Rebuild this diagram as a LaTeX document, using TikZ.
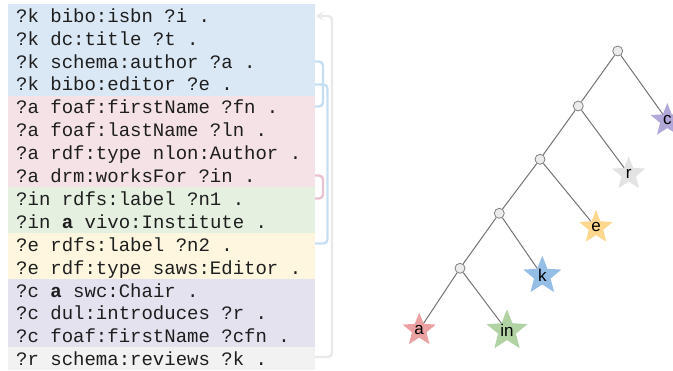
\documentclass[tikz,border=0pt]{standalone}
\usepackage{fontspec}
\setmonofont{Liberation Mono}
\newfontfamily\labelfont{Liberation Sans}
\usetikzlibrary{shapes.geometric,arrows.meta,backgrounds}
\definecolor{pblue}{HTML}{DAE8F5}
\definecolor{ppink}{HTML}{F4E2E6}
\definecolor{pgreen}{HTML}{E6F0E1}
\definecolor{pyellow}{HTML}{FEF6DF}
\definecolor{ppurple}{HTML}{E5E2F0}
\definecolor{pgray}{HTML}{F2F2F2}
\definecolor{bblue}{HTML}{C6DEF2}
\definecolor{bpink}{HTML}{EAC3CF}
\definecolor{bgray}{HTML}{E9E9E9}
\definecolor{txt}{HTML}{1E1E1E}
\definecolor{sc}{HTML}{B1A7D8}
\definecolor{sr}{HTML}{E3E3E3}
\definecolor{se}{HTML}{FCD78D}
\definecolor{sk}{HTML}{94BEE6}
\definecolor{sa}{HTML}{EBA1A1}
\definecolor{sin}{HTML}{B1D3A4}
\tikzset{
  codeline/.style={anchor=base west,inner sep=0pt,text=txt,font=\ttfamily\fontsize{19}{22}\selectfont},
  bracket/.style={line width=2.4pt,rounded corners=4pt},
  joint/.style={circle,minimum size=10pt,inner sep=0pt,fill=black!8,draw=black!50,line width=0.8pt},
  leaf/.style={star,star points=5,star point ratio=2.3,minimum size=35pt,inner sep=0pt,draw=none,text=black,font=\labelfont\fontsize{17}{17}\selectfont},
  edge/.style={draw=black!55,line width=1pt}
}
\begin{document}
\begin{tikzpicture}[x=1pt,y=-1pt]
\useasboundingbox (0,0) rectangle (673,371);
% panel backgrounds
\fill[pblue]   (8,4)     rectangle (315,95.6);
\fill[ppink]   (8,95.6)  rectangle (315,187.2);
\fill[pgreen]  (8,187.2) rectangle (315,233);
\fill[pyellow] (8,233)   rectangle (315,278.8);
\fill[ppurple] (8,278.8) rectangle (315,347.5);
\fill[pgray]   (8,347.5) rectangle (315,370.4);
% code lines
\node[codeline] (l0)  at (16,22.3)  {?k bibo:isbn ?i .};
\node[codeline] (l1)  at (16,45.2)  {?k dc:title ?t .};
\node[codeline] (l2)  at (16,68.1)  {?k schema:author ?a .};
\node[codeline] (l3)  at (16,91.0)  {?k bibo:editor ?e .};
\node[codeline] (l4)  at (16,113.9) {?a foaf:firstName ?fn .};
\node[codeline] (l5)  at (16,136.8) {?a foaf:lastName ?ln .};
\node[codeline] (l6)  at (16,159.7) {?a rdf:type nlon:Author .};
\node[codeline] (l7)  at (16,182.6) {?a drm:worksFor ?in .};
\node[codeline] (l8)  at (16,205.5) {?in rdfs:label ?n1 .};
\node[codeline] (l9)  at (16,228.4) {?in \textbf{a} vivo:Institute .};
\node[codeline] (l10) at (16,251.3) {?e rdfs:label ?n2 .};
\node[codeline] (l11) at (16,274.2) {?e rdf:type saws:Editor .};
\node[codeline] (l12) at (16,297.1) {?c \textbf{a} swc:Chair .};
\node[codeline] (l13) at (16,320.0) {?c dul:introduces ?r .};
\node[codeline] (l14) at (16,342.9) {?c foaf:firstName ?cfn .};
\node[codeline] (l15) at (16,365.8) {?r schema:reviews ?k .};
% bracket ends at panel edge
\coordinate (e0)  at (316,16);
\coordinate (e2)  at (315,61.5);
\coordinate (e3)  at (315,84.5);
\coordinate (e4)  at (315,106.5);
\coordinate (e7)  at (315,175.5);
\coordinate (e8)  at (315,198.5);
\coordinate (e10) at (315,243.5);
\coordinate (e15) at (315,357);
% brackets
\draw[bracket,bgray,-{Stealth[length=7pt,width=9pt]}] (e15) -| (332,16) -- (e0);
\draw[bracket,bblue] (e2) -| (323,106.5) -- (e4);
\draw[bracket,bblue] (e3) -| (327.5,243.5) -- (e10);
\draw[bracket,bpink] (e7) -| (323,198.5) -- (e8);
% tree
\node[joint] (n1) at (617.7,51) {};
\node[joint] (n2) at (578.3,106) {};
\node[joint] (n3) at (540,159.3) {};
\node[joint] (n4) at (499.3,213.3) {};
\node[joint] (n5) at (460,268.3) {};
\node[leaf,fill=sc]  (c)  at (667.3,120.5) {c};
\node[leaf,fill=sr]  (r)  at (628.7,174)   {r};
\node[leaf,fill=se]  (e)  at (596,227.5)   {e};
\node[leaf,fill=sk]  (k)  at (542.3,275.8) {k};
\node[leaf,fill=sa]  (a)  at (419.2,330)   {a};
\node[leaf,fill=sin] (in) at (507,330.8)   {in};
\begin{scope}[on background layer]
\draw[edge] (n1) -- (n2);
\draw[edge] (n1) -- (c.center);
\draw[edge] (n2) -- (n3);
\draw[edge] (n2) -- (r.center);
\draw[edge] (n3) -- (n4);
\draw[edge] (n3) -- (e.center);
\draw[edge] (n4) -- (n5);
\draw[edge] (n4) -- (k.center);
\draw[edge] (n5) -- (a.center);
\draw[edge] (n5) -- (in.center);
\end{scope}
\end{tikzpicture}
\end{document}
